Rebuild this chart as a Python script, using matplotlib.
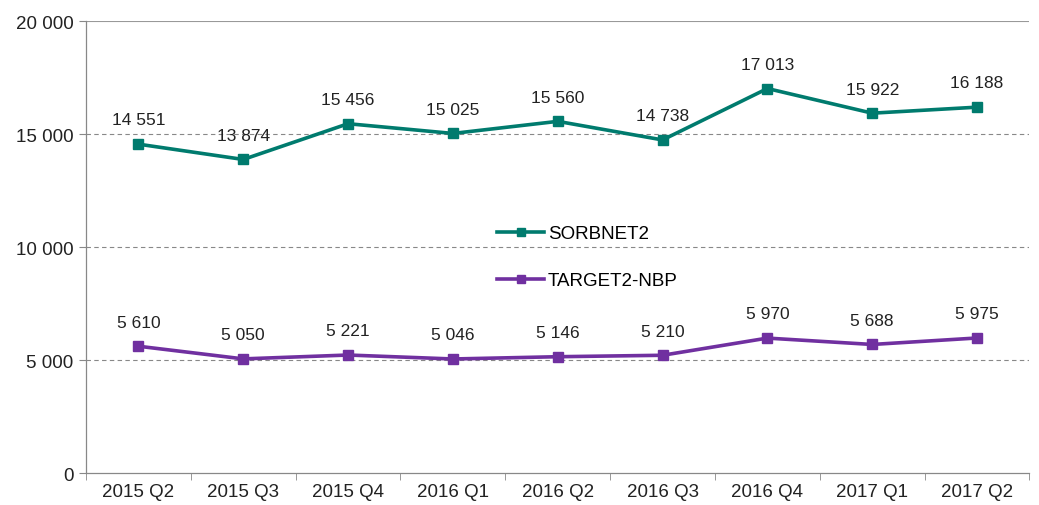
import matplotlib
matplotlib.use("Agg")
import matplotlib.pyplot as plt

categories = ["2015 Q2", "2015 Q3", "2015 Q4", "2016 Q1", "2016 Q2",
              "2016 Q3", "2016 Q4", "2017 Q1", "2017 Q2"]
sorbnet2 = [14551, 13874, 15456, 15025, 15560, 14738, 17013, 15922, 16188]
target2 = [5610, 5050, 5221, 5046, 5146, 5210, 5970, 5688, 5975]
yticks = [0, 5000, 10000, 15000, 20000]

plt.rcParams['font.family'] = ['Liberation Sans', 'DejaVu Sans']

def fmt(v):
    return f"{v:,}".replace(",", " ")

fig = plt.figure(figsize=(10.39, 5.06), dpi=100)
ax = fig.add_axes([0.0828, 0.0632, 0.908, 0.8933])

x = list(range(len(categories)))
teal = "#007B6E"
purple = "#7030A0"
ax.plot(x, sorbnet2, color=teal, lw=2.6, marker='s', ms=7, label="SORBNET2", zorder=3)
ax.plot(x, target2, color=purple, lw=2.6, marker='s', ms=7, label="TARGET2-NBP", zorder=3)

for xi, v in zip(x, sorbnet2):
    ax.annotate(fmt(v), (xi, v), xytext=(0, 12), textcoords='offset points',
                ha='center', va='bottom', fontsize=12.5, color='#222222')
for xi, v in zip(x, target2):
    ax.annotate(fmt(v), (xi, v), xytext=(0, 12), textcoords='offset points',
                ha='center', va='bottom', fontsize=12.5, color='#222222')

ax.set_xlim(-0.5, len(categories) - 0.5)
ax.set_ylim(0, 20000)
ax.set_yticks(yticks)
ax.set_yticklabels([fmt(v) for v in yticks], fontsize=13.5, color='#222222')
ax.set_xticks(x)
ax.set_xticklabels(categories, fontsize=13.5, color='#222222')
ax.set_xticks([i - 0.5 for i in range(len(categories) + 1)], minor=True)
ax.tick_params(axis='x', which='major', length=0, pad=7)
ax.tick_params(axis='x', which='minor', length=5, color='#888888', direction='out')
ax.tick_params(axis='y', length=5, color='#888888', direction='out', pad=4)

for v in yticks[1:-1]:
    ax.axhline(v, color='#888888', lw=0.8, ls=(0, (4, 3)), zorder=1)
ax.axhline(20000, color='#999999', lw=0.8, zorder=1)

for s in ['top', 'right']:
    ax.spines[s].set_visible(False)
for s in ['left', 'bottom']:
    ax.spines[s].set_color('#888888')
    ax.spines[s].set_linewidth(0.9)

leg = ax.legend(loc='upper left', bbox_to_anchor=(0.418, 0.586), frameon=False,
                fontsize=13.5, handlelength=2.5, labelspacing=1.6, handletextpad=0.2,
                markerscale=0.75)

fig.savefig("out.png", dpi=100)
